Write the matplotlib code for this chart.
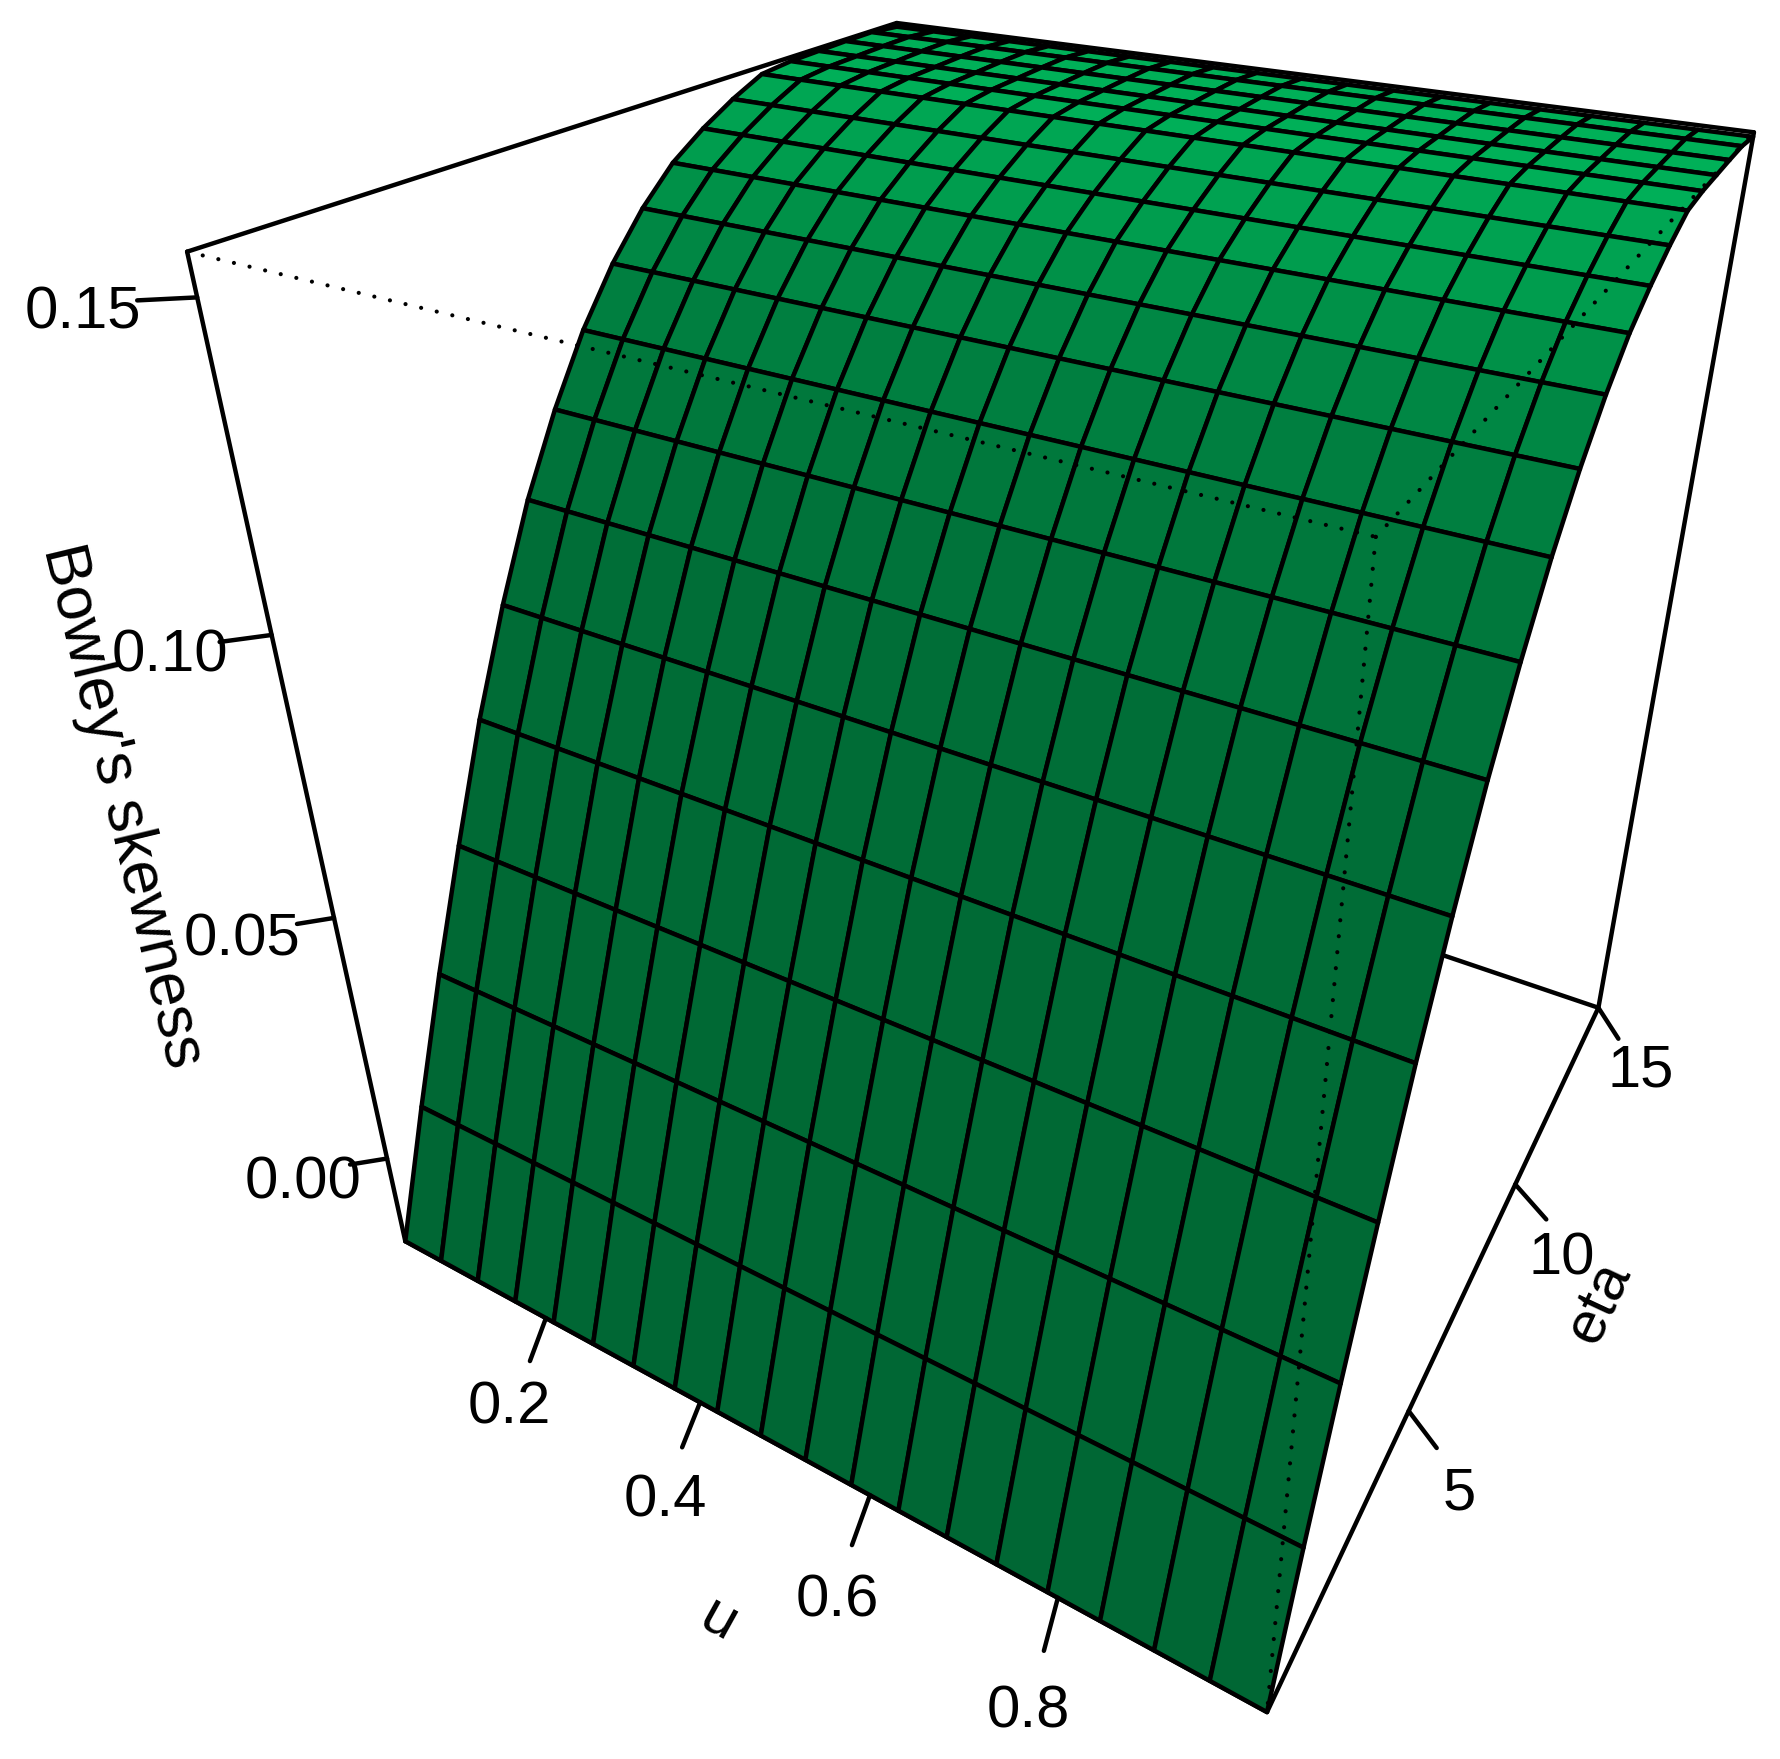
import numpy as np
import matplotlib
matplotlib.use("Agg")
import matplotlib.pyplot as plt
from matplotlib.collections import PolyCollection

plt.rcParams['font.family'] = ['Liberation Sans', 'DejaVu Sans']

# grid of the surface
u_values = [0.0000, 0.0526, 0.1053, 0.1579, 0.2105, 0.2632, 0.3158, 0.3684, 0.4211, 0.4737,
            0.5263, 0.5789, 0.6316, 0.6842, 0.7368, 0.7895, 0.8421, 0.8947, 0.9474, 1.0000]
eta_values = [0.0000, 0.7895, 1.5789, 2.3684, 3.1579, 3.9474, 4.7368, 5.5263, 6.3158, 7.1053,
              7.8947, 8.6842, 9.4737, 10.2632, 11.0526, 11.8421, 12.6316, 13.4211, 14.2105, 15.0000]
# same for every u
skewness = [-0.0191, 0.0044, 0.0267, 0.0475, 0.0673, 0.0846, 0.1000, 0.1127, 0.1236, 0.1324,
            0.1395, 0.1451, 0.1490, 0.1522, 0.1548, 0.1554, 0.1556, 0.1558, 0.1559, 0.1554]

u_ticks = [0.2, 0.4, 0.6, 0.8]
u_tick_labels = ["0.2", "0.4", "0.6", "0.8"]
eta_ticks = [5, 10, 15]
eta_tick_labels = ["5", "10", "15"]
z_ticks = [0.00, 0.05, 0.10, 0.15]
z_tick_labels = ["0.00", "0.05", "0.10", "0.15"]

W = 1781
H = 1759
FONT = 43
LW = 3.2

# box limits
uMin, uMax = 0.0, 1.0
etaMin, etaMax = 0.0, 15.0
zMin, zMax = -0.0191, 0.1561

# pixel offsets of tick ends and labels from the point on the box edge
uTip = [(-16, 43), (-18, 45), (-18, 50), (-14, 53)]
uLab = [(-37, 90), (-35, 99), (-33, 106), (-30, 114)]
etaTip = [(28, 37), (31, 35), (20, 31)]
etaLab = [(51, 83), (46, 75), (42, 63)]
zTip = [(-37, 6), (-37, 6), (-52, 7), (-60, 3)]
zLab = [(-84, 24), (-92, 22), (-102, 21), (-114, 16)]

# where the box corners land in the image, the camera is fitted to these
cubeCorners = [(0, 0, 0), (1, 0, 0), (1, 1, 0), (0, 0, 1), (1, 0, 1), (1, 1, 1), (0, 1, 1)]
imageCorners = [(405, 1241), (1268, 1712), (1598, 1008), (187, 252), (1375, 537), (1754, 132), (897, 23)]


def fitCamera():
    rows = []
    for (X, Y, Z), (px, py) in zip(cubeCorners, imageCorners):
        rows.append([X, Y, Z, 1, 0, 0, 0, 0, -px * X, -px * Y, -px * Z, -px])
        rows.append([0, 0, 0, 0, X, Y, Z, 1, -py * X, -py * Y, -py * Z, -py])
    _, _, vt = np.linalg.svd(np.array(rows, dtype=float))
    return vt[-1].reshape(3, 4)


cam = fitCamera()


def project(u, eta, z):
    X = (np.asarray(u, dtype=float) - uMin) / (uMax - uMin)
    Y = (np.asarray(eta, dtype=float) - etaMin) / (etaMax - etaMin)
    Z = (np.asarray(z, dtype=float) - zMin) / (zMax - zMin)
    w = cam[2, 0] * X + cam[2, 1] * Y + cam[2, 2] * Z + cam[2, 3]
    px = (cam[0, 0] * X + cam[0, 1] * Y + cam[0, 2] * Z + cam[0, 3]) / w
    py = (cam[1, 0] * X + cam[1, 1] * Y + cam[1, 2] * Z + cam[1, 3]) / w
    return px, py


def segment(ax, a, b, **kw):
    x1, y1 = project(*a)
    x2, y2 = project(*b)
    ax.plot([x1, x2], [y1, y2], color="black", **kw)


def drawAxisTicks(ax, points, tips, labs, labels):
    for (x, y), tip, lab, txt in zip(points, tips, labs, labels):
        ax.plot([x, x + tip[0]], [y, y + tip[1]], color="black", lw=LW,
                solid_capstyle="round", zorder=4)
        ax.text(x + lab[0], y + lab[1], txt, fontsize=FONT, ha="center", va="center", zorder=5)


fig = plt.figure(figsize=(W / 100, H / 100), dpi=100)
ax = fig.add_axes([0, 0, 1, 1])
ax.set_xlim(0, W)
ax.set_ylim(H, 0)
ax.axis("off")

# box edges behind the surface
solid = dict(lw=LW, solid_capstyle="round", solid_joinstyle="round", zorder=1)
segment(ax, (uMin, etaMin, zMin), (uMin, etaMin, zMax), **solid)
segment(ax, (uMin, etaMin, zMax), (uMin, etaMax, zMax), **solid)
segment(ax, (uMin, etaMax, zMax), (uMax, etaMax, zMax), **solid)
segment(ax, (uMax, etaMax, zMax), (uMax, etaMax, zMin), **solid)
segment(ax, (uMax, etaMax, zMin), (uMin, etaMax, zMin), **solid)
segment(ax, (uMin, etaMax, zMin), (uMin, etaMin, zMin), **solid)
segment(ax, (uMin, etaMin, zMin), (uMax, etaMin, zMin), **solid)
segment(ax, (uMax, etaMin, zMin), (uMax, etaMax, zMin), **solid)

# surface facets, darker where it is steep
U = np.array(u_values)
E = np.array(eta_values)
S = np.array(skewness)
polys = []
colors = []
for j in range(len(E) - 2, -1, -1):
    slope = ((S[j + 1] - S[j]) / (zMax - zMin)) / ((E[j + 1] - E[j]) / (etaMax - etaMin))
    shade = 1.0 / (1.0 + (slope / 0.75) ** 2)
    green = (97 + 79 * shade) / 255.0
    for i in range(len(U) - 1):
        xs, ys = project([U[i], U[i + 1], U[i + 1], U[i]],
                         [E[j], E[j], E[j + 1], E[j + 1]],
                         [S[j], S[j], S[j + 1], S[j + 1]])
        polys.append(np.column_stack([xs, ys]))
        colors.append((0, green, green / 2))
surface = PolyCollection(polys, facecolors=colors, edgecolors="black", linewidths=LW,
                         joinstyle="round", zorder=2)
ax.add_collection(surface)

# hidden box edges show as dots on top
dots = dict(lw=3.0, linestyle=(0, (0.01, 3.84)), dash_capstyle="round", zorder=3)
segment(ax, (uMin, etaMin, zMax), (uMax, etaMin, zMax), **dots)
segment(ax, (uMax, etaMin, zMax), (uMax, etaMax, zMax), **dots)
segment(ax, (uMax, etaMin, zMax), (uMax, etaMin, zMin), **dots)

drawAxisTicks(ax, [project(v, etaMin, zMin) for v in u_ticks], uTip, uLab, u_tick_labels)
drawAxisTicks(ax, [project(uMax, v, zMin) for v in eta_ticks], etaTip, etaLab, eta_tick_labels)
drawAxisTicks(ax, [project(uMin, etaMin, v) for v in z_ticks], zTip, zLab, z_tick_labels)

ax.text(122, 806, "Bowley's skewness", fontsize=45, rotation=-76.5, rotation_mode="anchor",
        ha="center", va="center", zorder=5)
ax.text(718, 1620, "u", fontsize=FONT, rotation=-29, rotation_mode="anchor",
        ha="center", va="center", zorder=5)
ax.text(1600, 1303, "eta", fontsize=FONT, rotation=65, rotation_mode="anchor",
        ha="center", va="center", zorder=5)

fig.savefig("out.png", dpi=100)
